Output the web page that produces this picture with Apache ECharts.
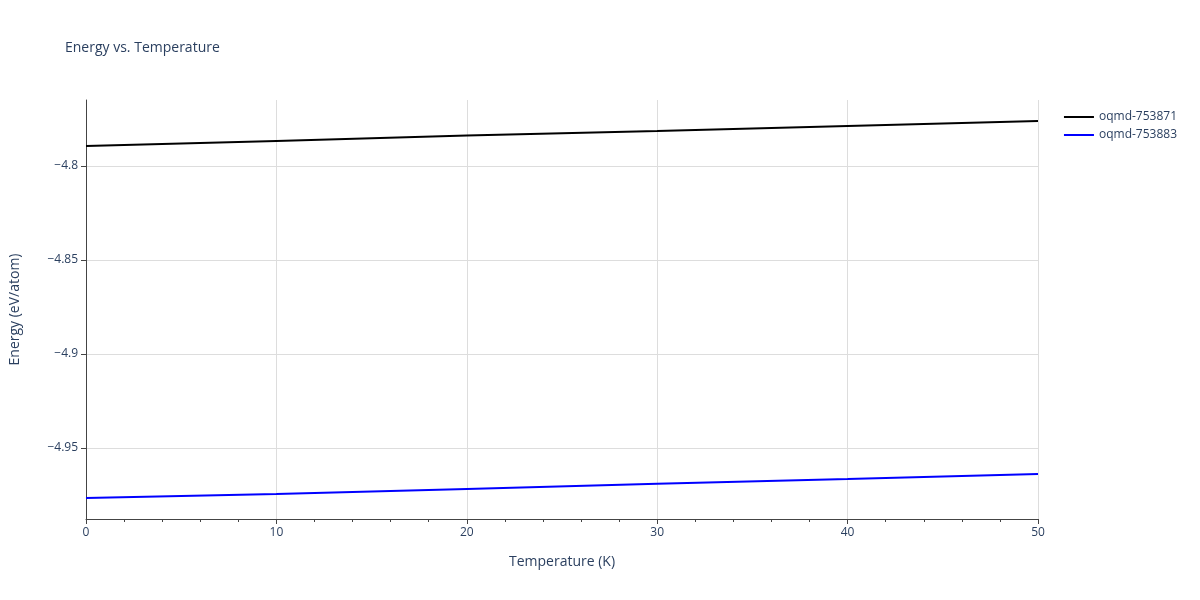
<!DOCTYPE html>
<html><head><meta charset="utf-8">
<script src="https://cdn.jsdelivr.net/npm/echarts@6/dist/echarts.min.js"></script>
<style>html,body{margin:0;padding:0}#c{width:1200px;height:600px}</style>
</head><body><div id="c"></div>
<script>
const temps=[0,10,20,30,40,50];
const s1=[-4.7894,-4.7867,-4.7838,-4.7814,-4.7787,-4.7761];
const s2=[-4.9766,-4.9745,-4.9718,-4.9691,-4.9665,-4.9638];
const yTicks=[-4.95,-4.9,-4.85,-4.8];
const fmt=v=>String(+v.toFixed(2)).replace('-','\u2212');
const chart=echarts.init(document.getElementById('c'));
chart.setOption({
 animation:false,
 textStyle:{fontFamily:'Open Sans, sans-serif'},
 title:{text:'Energy vs. Temperature',left:60,top:36,textStyle:{fontSize:14,fontWeight:'normal',color:'#2a3f5f'}},
 legend:{orient:'vertical',right:18,top:106,itemWidth:30,itemGap:6,icon:'path://M0,0L30,0L30,2L0,2Z',textStyle:{color:'#2a3f5f',fontSize:12},data:['oqmd-753871','oqmd-753883']},
 grid:{left:81,right:162,top:100,bottom:81},
 xAxis:{type:'value',min:0,max:50,interval:10,name:'Temperature (K)',nameLocation:'middle',nameGap:36,nameTextStyle:{color:'#2a3f5f',fontSize:14},
  axisLine:{show:true,lineStyle:{color:'#444'}},axisTick:{show:true,length:5,lineStyle:{color:'#444'}},
  minorTick:{show:true,splitNumber:5,length:3,lineStyle:{color:'#444'}},
  axisLabel:{color:'#2a3f5f',fontSize:12},splitLine:{show:true,lineStyle:{color:'#ddd'}}},
 yAxis:{type:'value',min:-4.9878,max:-4.7649,name:'Energy (eV/atom)',nameLocation:'middle',nameGap:64,nameTextStyle:{color:'#2a3f5f',fontSize:14},
  axisLine:{show:true,lineStyle:{color:'#444'}},
  axisTick:{show:true,length:5,customValues:yTicks,lineStyle:{color:'#444'}},
  axisLabel:{color:'#2a3f5f',fontSize:12,customValues:yTicks,formatter:fmt},
  splitLine:{show:true,lineStyle:{color:'#ddd'}}},
 series:[
  {name:'oqmd-753871',type:'line',showSymbol:false,data:temps.map((t,i)=>[t,s1[i]]),lineStyle:{color:'#000',width:2},itemStyle:{color:'#000'}},
  {name:'oqmd-753883',type:'line',showSymbol:false,data:temps.map((t,i)=>[t,s2[i]]),lineStyle:{color:'#0000ff',width:2},itemStyle:{color:'#0000ff'}}
 ]
});
</script></body></html>
